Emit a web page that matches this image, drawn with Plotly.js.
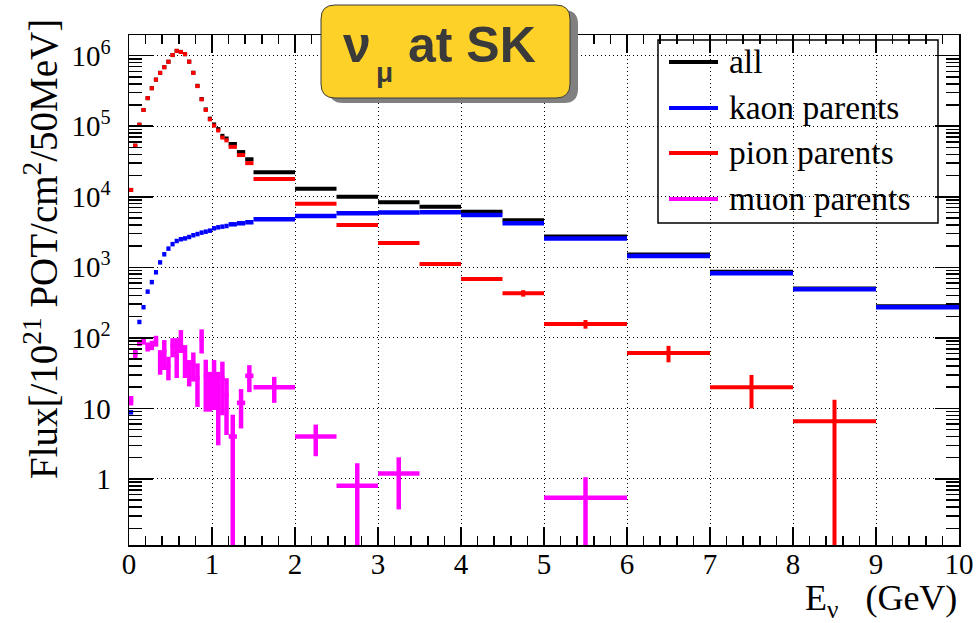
<!DOCTYPE html>
<html>
<head>
<meta charset="utf-8">
<script src="https://cdn.plot.ly/plotly-3.0.1.min.js"></script>
<style>
html, body { margin: 0; padding: 0; background: #fff; }
#chart { width: 976px; height: 623px; }
</style>
</head>
<body>
<div id="chart"></div>
<script>
// Energy bin edges (GeV): 50 MeV bins up to 1.2 GeV, then progressively wider bins
const binEdges = [0, 0.05, 0.1, 0.15, 0.2, 0.25, 0.3, 0.35, 0.4, 0.45, 0.5, 0.55, 0.6, 0.65, 0.7,
  0.75, 0.8, 0.85, 0.9, 0.95, 1.0, 1.05, 1.1, 1.15, 1.2, 1.3, 1.4, 1.5, 2.0, 2.5, 3.0, 3.5, 4.0,
  4.5, 5.0, 6.0, 7.0, 8.0, 9.0, 10.0];

// Flux per 10^21 POT / cm^2 / 50 MeV, one value per bin
const fluxAll = [1.25e4, 5.3e4, 1.05e5, 1.7e5, 2.5e5, 3.46e5, 4.58e5, 5.71e5, 6.87e5, 8.22e5,
  1.02e6, 1.17e6, 1.13e6, 1.05e6, 8.23e5, 5.73e5, 3.74e5, 2.43e5, 1.73e5, 1.28e5, 1.06e5, 9.1e4,
  7.3e4, 6.7e4, 5.6e4, 4.3e4, 3.4e4, 2.22e4, 1.30e4, 1.0e4, 8350, 7240, 6150, 4640, 2740, 1520,
  867, 500, 280];

const fluxKaon = [8.8, 62, 168, 272, 452, 617, 850, 1175, 1530, 1840, 2130, 2360, 2500, 2570,
  2690, 2850, 2960, 3100, 3200, 3310, 3570, 3690, 3770, 3850, 4070, 4210, 4350, 4800, 5350, 5840,
  6000, 6050, 5520, 4210, 2560, 1450, 824, 489, 272];

const fluxPion = [1.25e4, 5.3e4, 1.05e5, 1.7e5, 2.5e5, 3.45e5, 4.57e5, 5.7e5, 6.85e5, 8.2e5,
  1.02e6, 1.17e6, 1.13e6, 1.05e6, 8.2e5, 5.7e5, 3.7e5, 2.4e5, 1.7e5, 1.25e5, 1.02e5, 8.7e4,
  6.9e4, 6.3e4, 5.1e4, 3.9e4, 3.0e4, 1.79e4, 7980, 3990, 2210, 1115, 684, 429, 157, 61, 19.9,
  6.6, null];
const errPion = [0, 0, 0, 0, 0, 0, 0, 0, 0, 0, 0, 0, 0, 0, 0, 0, 0, 0, 0, 0, 0, 0, 0, 0, 0, 0, 0,
  0, 0, 0, 0, 0, 0, 45, 22, 16, 9.9, 6.7, 0];

const fluxMuon = [13, 61, 83, 90, 75, 79, 91, 48.5, 64, 39.5, 76, 63, 95, 53, 34.5, 43, 27, 96,
  29, 21, 29, 18, 27, 15.5, 4.0, 12, 29, 20, 4.0, 0.8, 1.2, null, null, null, 0.54, null, null,
  null, null];
const errMuon = [2, 9, 6, 10, 11, 12, 16, 18.5, 29, 14.5, 23, 36, 34, 26, 14, 19, 16.5, 36, 20,
  12, 19.5, 15, 19, 11.3, 4.1, 6.8, 12, 8, 1.9, 0.87, 0.83, 0, 0, 0, 0.52, 0, 0, 0, 0];

// Legend entries
const legendNames = ['all', 'kaon parents', 'pion parents', 'muon parents'];
const legendColors = ['#000000', '#0000ff', '#ff0000', '#ff00ff'];

// Axis tick labels
const xTickVals = [0, 1, 2, 3, 4, 5, 6, 7, 8, 9, 10];
const yTickVals = [1, 10, 100, 1e3, 1e4, 1e5, 1e6];
const yTickText = ['1', '10', '10<sup>2</sup>', '10<sup>3</sup>', '10<sup>4</sup>',
  '10<sup>5</sup>', '10<sup>6</sup>'];

// Bin centres and half widths for the horizontal bin bars
const centers = [], halfWidths = [];
for (let i = 0; i < binEdges.length - 1; i++) {
  centers.push((binEdges[i] + binEdges[i + 1]) / 2);
  halfWidths.push((binEdges[i + 1] - binEdges[i]) / 2);
}

// Log-axis minor ticks (2..9 per decade)
const yMinor = [];
for (let e = -1; e <= 6; e++) {
  for (let m = 2; m <= 9; m++) {
    const v = m * Math.pow(10, e);
    if (v > 0.116 && v < 1.9e6) yMinor.push(v);
  }
}

function histTrace(name, vals, errs, color, thick) {
  return {
    type: 'scatter', mode: 'markers', name: name, showlegend: false, hoverinfo: 'skip',
    x: centers, y: vals,
    marker: { size: 1, color: color, opacity: 0 },
    error_x: { type: 'data', array: halfWidths, visible: true, color: color, thickness: thick, width: 0 },
    error_y: { type: 'data', array: errs, visible: true, color: color, thickness: thick, width: 0 }
  };
}

const zeros = fluxAll.map(() => 0);
const traces = [
  histTrace('all', fluxAll, zeros, legendColors[0], 4),
  histTrace('kaon parents', fluxKaon, zeros, legendColors[1], 4.5),
  histTrace('pion parents', fluxPion, errPion, legendColors[2], 4),
  histTrace('muon parents', fluxMuon, errMuon, legendColors[3], 4.5)
];

// Plot frame in pixels
const L = 129, R = 959, T = 35, B = 545;
const px = v => (v - L) / (R - L);
const py = v => (B - v) / (B - T);

function roundRect(x0, y0, x1, y1, r) {
  const X = v => px(v).toFixed(5), Y = v => py(v).toFixed(5);
  return `M${X(x0 + r)},${Y(y0)} L${X(x1 - r)},${Y(y0)} Q${X(x1)},${Y(y0)} ${X(x1)},${Y(y0 + r)} ` +
    `L${X(x1)},${Y(y1 - r)} Q${X(x1)},${Y(y1)} ${X(x1 - r)},${Y(y1)} L${X(x0 + r)},${Y(y1)} ` +
    `Q${X(x0)},${Y(y1)} ${X(x0)},${Y(y1 - r)} L${X(x0)},${Y(y0 + r)} Q${X(x0)},${Y(y0)} ${X(x0 + r)},${Y(y0)} Z`;
}

const serif = 'Times New Roman, Liberation Serif, serif';
const sans = 'Arial, Liberation Sans, sans-serif';

const shapes = [];
const annotations = [];

// Legend box and line samples
shapes.push({ type: 'rect', xref: 'paper', yref: 'paper', x0: px(658), x1: px(938), y0: py(223), y1: py(40),
  line: { color: '#000', width: 1.5 }, fillcolor: 'rgba(0,0,0,0)', layer: 'above' });
const legendY = [62, 108, 153, 199];
legendNames.forEach((n, i) => {
  shapes.push({ type: 'line', xref: 'paper', yref: 'paper', x0: px(669), x1: px(718),
    y0: py(legendY[i]), y1: py(legendY[i]), line: { color: legendColors[i], width: 4 }, layer: 'above' });
  annotations.push({ text: n, xref: 'paper', yref: 'paper', x: px(727), y: py(legendY[i] - 1),
    xanchor: 'left', yanchor: 'middle', showarrow: false, font: { family: serif, size: 33.5, color: '#000' } });
});

// Title box with drop shadow
shapes.push({ type: 'path', xref: 'paper', yref: 'paper', path: roundRect(329, 10, 578, 103, 14),
  fillcolor: '#808080', line: { width: 0 }, layer: 'above' });
shapes.push({ type: 'path', xref: 'paper', yref: 'paper', path: roundRect(321, 5, 570, 98, 14),
  fillcolor: '#fdd128', line: { color: '#3a3a3a', width: 1 }, layer: 'above' });
const titleFont = { family: sans, size: 50, color: '#3a3a3a', weight: 'bold' };
annotations.push({ text: 'ν', xref: 'paper', yref: 'paper', x: px(341), y: py(44.7),
  xanchor: 'left', yanchor: 'middle', showarrow: false, font: titleFont });
annotations.push({ text: 'μ', xref: 'paper', yref: 'paper', x: px(374), y: py(72.3),
  xanchor: 'left', yanchor: 'middle', showarrow: false,
  font: { family: sans, size: 28, color: '#3a3a3a', weight: 'bold' } });
annotations.push({ text: 'at SK', xref: 'paper', yref: 'paper', x: px(406), y: py(44.7),
  xanchor: 'left', yanchor: 'middle', showarrow: false, font: titleFont });

// Axis titles
annotations.push({ text: 'Flux[/10<sup>21</sup> POT/cm<sup>2</sup>/50MeV]', textangle: -90,
  xref: 'paper', yref: 'paper', x: px(41), y: py(17), xanchor: 'center', yanchor: 'top',
  showarrow: false, font: { family: serif, size: 39, color: '#000' } });
annotations.push({ text: 'E<sub>ν</sub>&nbsp;&nbsp; (GeV)', xref: 'paper', yref: 'paper', x: px(959), y: py(600),
  xanchor: 'right', yanchor: 'middle', showarrow: false, font: { family: serif, size: 36, color: '#000' } });

const axisCommon = {
  showline: true, linecolor: '#000', linewidth: 1.5, mirror: 'ticks',
  ticks: 'inside', tickcolor: '#000', tickwidth: 1.5,
  showgrid: true, gridcolor: '#000', gridwidth: 1, griddash: '1px,3px',
  zeroline: false, tickfont: { family: serif, size: 29, color: '#000' }
};

const layout = {
  width: 976, height: 623,
  margin: { l: L, r: 976 - R, t: T, b: 623 - B, pad: 0 },
  paper_bgcolor: '#fff', plot_bgcolor: '#fff',
  showlegend: false,
  font: { family: serif },
  xaxis: Object.assign({}, axisCommon, {
    range: [0, 10], tickmode: 'array', tickvals: xTickVals, ticklen: 18,
    ticklabelstandoff: -7,
    minor: { dtick: 0.2, tick0: 0, ticks: 'inside', ticklen: 9, tickwidth: 1.5, tickcolor: '#000', showgrid: false }
  }),
  yaxis: Object.assign({}, axisCommon, {
    type: 'log', range: [-0.936, 6.293], tickmode: 'array', tickvals: yTickVals, ticktext: yTickText,
    ticklen: 24, ticklabelstandoff: 11,
    minor: { tickmode: 'array', tickvals: yMinor, ticks: 'inside', ticklen: 13, tickwidth: 1.5, tickcolor: '#000', showgrid: false }
  }),
  shapes: shapes,
  annotations: annotations
};

Plotly.newPlot('chart', traces, layout, { displayModeBar: false, staticPlot: true });
</script>
</body>
</html>
